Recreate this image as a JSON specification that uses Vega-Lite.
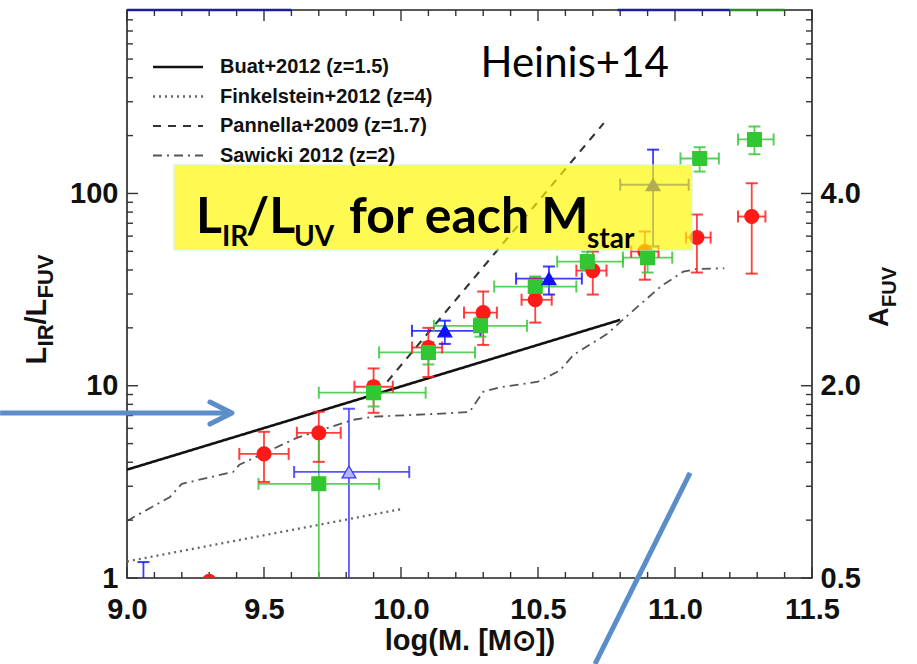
{
  "$schema": "https://vega.github.io/schema/vega-lite/v6.json",
  "width": 685,
  "height": 568,
  "autosize": {"type": "none"},
  "padding": {"left": 127, "top": 10, "right": 105, "bottom": 86},
  "background": "white",
  "config": {
    "view": {"stroke": "#222222", "strokeWidth": 1.6},
    "axis": {
      "grid": false, "domain": false, "labelFlush": false, "labelOverlap": false,
      "labelFont": "Liberation Sans", "labelFontWeight": "bold", "labelFontSize": 29, "labelColor": "#111111",
      "titleFont": "Liberation Sans", "titleFontWeight": "bold", "titleFontSize": 29, "titleColor": "#111111"
    }
  },
  "datasets": {
    "xticks": [
      {"v": 9.0, "kind": "major"}, {"v": 9.1, "kind": "minor"}, {"v": 9.2, "kind": "minor"}, {"v": 9.3, "kind": "minor"}, {"v": 9.4, "kind": "minor"},
      {"v": 9.5, "kind": "major"}, {"v": 9.6, "kind": "minor"}, {"v": 9.7, "kind": "minor"}, {"v": 9.8, "kind": "minor"}, {"v": 9.9, "kind": "minor"},
      {"v": 10.0, "kind": "major"}, {"v": 10.1, "kind": "minor"}, {"v": 10.2, "kind": "minor"}, {"v": 10.3, "kind": "minor"}, {"v": 10.4, "kind": "minor"},
      {"v": 10.5, "kind": "major"}, {"v": 10.6, "kind": "minor"}, {"v": 10.7, "kind": "minor"}, {"v": 10.8, "kind": "minor"}, {"v": 10.9, "kind": "minor"},
      {"v": 11.0, "kind": "major"}, {"v": 11.1, "kind": "minor"}, {"v": 11.2, "kind": "minor"}, {"v": 11.3, "kind": "minor"}, {"v": 11.4, "kind": "minor"},
      {"v": 11.5, "kind": "major"}
    ],
    "yticks": [
      {"v": 1, "kind": "major"}, {"v": 2, "kind": "minor"}, {"v": 3, "kind": "minor"}, {"v": 4, "kind": "minor"}, {"v": 5, "kind": "minor"},
      {"v": 6, "kind": "minor"}, {"v": 7, "kind": "minor"}, {"v": 8, "kind": "minor"}, {"v": 9, "kind": "minor"},
      {"v": 10, "kind": "major"}, {"v": 20, "kind": "minor"}, {"v": 30, "kind": "minor"}, {"v": 40, "kind": "minor"}, {"v": 50, "kind": "minor"},
      {"v": 60, "kind": "minor"}, {"v": 70, "kind": "minor"}, {"v": 80, "kind": "minor"}, {"v": 90, "kind": "minor"},
      {"v": 100, "kind": "major"}, {"v": 200, "kind": "minor"}, {"v": 300, "kind": "minor"}, {"v": 400, "kind": "minor"}, {"v": 500, "kind": "minor"},
      {"v": 600, "kind": "minor"}, {"v": 700, "kind": "minor"}, {"v": 800, "kind": "minor"}
    ],
    "curves": [
      {"model": "Buat+2012 (z=1.5)", "x": 9.0, "y": 3.66},
      {"model": "Buat+2012 (z=1.5)", "x": 10.8, "y": 22.0},
      {"model": "Finkelstein+2012 (z=4)", "x": 9.0, "y": 1.22},
      {"model": "Finkelstein+2012 (z=4)", "x": 10.0, "y": 2.28},
      {"model": "Pannella+2009 (z=1.7)", "x": 9.95, "y": 10.5},
      {"model": "Pannella+2009 (z=1.7)", "x": 10.74, "y": 232},
      {"model": "Sawicki 2012 (z=2)", "x": 9.0, "y": 1.98},
      {"model": "Sawicki 2012 (z=2)", "x": 9.157, "y": 2.64},
      {"model": "Sawicki 2012 (z=2)", "x": 9.2, "y": 3.09},
      {"model": "Sawicki 2012 (z=2)", "x": 9.387, "y": 3.56},
      {"model": "Sawicki 2012 (z=2)", "x": 9.41, "y": 3.88},
      {"model": "Sawicki 2012 (z=2)", "x": 9.62, "y": 5.36},
      {"model": "Sawicki 2012 (z=2)", "x": 9.825, "y": 6.65},
      {"model": "Sawicki 2012 (z=2)", "x": 9.9, "y": 6.9},
      {"model": "Sawicki 2012 (z=2)", "x": 10.18, "y": 7.2},
      {"model": "Sawicki 2012 (z=2)", "x": 10.25, "y": 7.3},
      {"model": "Sawicki 2012 (z=2)", "x": 10.3, "y": 9.3},
      {"model": "Sawicki 2012 (z=2)", "x": 10.36, "y": 9.8},
      {"model": "Sawicki 2012 (z=2)", "x": 10.5, "y": 10.5},
      {"model": "Sawicki 2012 (z=2)", "x": 10.58, "y": 12.0},
      {"model": "Sawicki 2012 (z=2)", "x": 10.63, "y": 14.5},
      {"model": "Sawicki 2012 (z=2)", "x": 10.75, "y": 18.5},
      {"model": "Sawicki 2012 (z=2)", "x": 10.83, "y": 23.4},
      {"model": "Sawicki 2012 (z=2)", "x": 10.88, "y": 27},
      {"model": "Sawicki 2012 (z=2)", "x": 10.95, "y": 33},
      {"model": "Sawicki 2012 (z=2)", "x": 11.03, "y": 39.2},
      {"model": "Sawicki 2012 (z=2)", "x": 11.08, "y": 40.5},
      {"model": "Sawicki 2012 (z=2)", "x": 11.18, "y": 40.8}
    ],
    "pts": [
      {"series": "red", "x": 9.3, "y": 0.96, "xlo": 9.3, "xhi": 9.3, "ylo": 0.96, "yhi": 0.96},
      {"series": "red", "x": 9.5, "y": 4.42, "xlo": 9.41, "xhi": 9.59, "ylo": 3.16, "yhi": 5.76},
      {"series": "red", "x": 9.7, "y": 5.69, "xlo": 9.62, "xhi": 9.78, "ylo": 4.02, "yhi": 7.32},
      {"series": "red", "x": 9.9, "y": 9.88, "xlo": 9.83, "xhi": 9.97, "ylo": 7.23, "yhi": 12.3},
      {"series": "red", "x": 10.1, "y": 15.8, "xlo": 10.04, "xhi": 10.15, "ylo": 11.1, "yhi": 20.0},
      {"series": "red", "x": 10.3, "y": 24.0, "xlo": 10.23, "xhi": 10.35, "ylo": 16.3, "yhi": 30.9},
      {"series": "red", "x": 10.49, "y": 28.0, "xlo": 10.44, "xhi": 10.55, "ylo": 21.3, "yhi": 36.5},
      {"series": "red", "x": 10.7, "y": 39.7, "xlo": 10.64, "xhi": 10.75, "ylo": 29.8, "yhi": 49.9},
      {"series": "red", "x": 10.89, "y": 49.9, "xlo": 10.84, "xhi": 10.94, "ylo": 35.6, "yhi": 63.4},
      {"series": "red", "x": 11.08, "y": 59.0, "xlo": 11.04, "xhi": 11.13, "ylo": 38.8, "yhi": 77.7},
      {"series": "red", "x": 11.28, "y": 75.9, "xlo": 11.23, "xhi": 11.33, "ylo": 38.3, "yhi": 113},
      {"series": "green", "x": 9.7, "y": 3.09, "xlo": 9.48, "xhi": 9.92, "ylo": 0.5, "yhi": 5.9},
      {"series": "green", "x": 9.9, "y": 9.2, "xlo": 9.7, "xhi": 10.09, "ylo": 7.8, "yhi": 10.5},
      {"series": "green", "x": 10.1, "y": 14.9, "xlo": 9.92, "xhi": 10.27, "ylo": 12.9, "yhi": 16.9},
      {"series": "green", "x": 10.29, "y": 20.5, "xlo": 10.12, "xhi": 10.46, "ylo": 18.0, "yhi": 22.6},
      {"series": "green", "x": 10.49, "y": 32.8, "xlo": 10.34, "xhi": 10.64, "ylo": 29.8, "yhi": 37.0},
      {"series": "green", "x": 10.68, "y": 44.2, "xlo": 10.57, "xhi": 10.81, "ylo": 40.0, "yhi": 49.8},
      {"series": "green", "x": 10.9, "y": 46.4, "xlo": 10.81, "xhi": 10.99, "ylo": 38.8, "yhi": 53.0},
      {"series": "green", "x": 11.09, "y": 152, "xlo": 11.02, "xhi": 11.16, "ylo": 130, "yhi": 174},
      {"series": "green", "x": 11.29, "y": 191, "xlo": 11.23, "xhi": 11.36, "ylo": 160, "yhi": 223},
      {"series": "blue", "x": 9.06, "y": 0.8, "xlo": 9.06, "xhi": 9.06, "ylo": 0.5, "yhi": 1.21},
      {"series": "blue", "x": 10.16, "y": 19.3, "xlo": 10.04, "xhi": 10.29, "ylo": 16.5, "yhi": 21.8},
      {"series": "blue", "x": 10.54, "y": 36.1, "xlo": 10.42, "xhi": 10.66, "ylo": 29.8, "yhi": 41.7},
      {"series": "blue", "x": 10.92, "y": 111, "xlo": 10.8, "xhi": 11.05, "ylo": 53, "yhi": 169},
      {"series": "blue_open", "x": 9.81, "y": 3.56, "xlo": 9.61, "xhi": 10.03, "ylo": 0.5, "yhi": 7.59}
    ],
    "edges": [
      {"series": "blue", "xlo": 9.0, "xhi": 9.6, "y": 900},
      {"series": "blue", "xlo": 10.79, "xhi": 11.2, "y": 900},
      {"series": "green", "xlo": 11.2, "xhi": 11.4, "y": 900}
    ],
    "box": [{"x": 9.1715, "x2": 11.062, "y": 50.8, "y2": 140.6}],
    "arrows": [
      {"x": 8.537, "x2": 9.37, "y": 7.21, "y2": 7.21},
      {"x": 11.055, "x2": 10.708, "y": 3.52, "y2": 0.357}
    ],
    "heads": [{"x": 9.383, "y": 7.21}],
    "ann": [
      {"id": "title", "x": 9.2518, "y": 62.3},
      {"id": "heinis", "x": 10.29, "y": 403.5},
      {"id": "ylab", "x": 8.7044, "y": 12.9},
      {"id": "alab", "x": 11.777, "y": 20.2}
    ]
  },
  "layer": [
    {
      "data": {"name": "curves"},
      "mark": {"type": "line", "clip": true},
      "encoding": {
        "x": {"field": "x", "type": "quantitative", "scale": {"domain": [9, 11.5], "nice": false, "zero": false},
              "axis": {"orient": "bottom", "values": [9, 9.5, 10, 10.5, 11, 11.5], "ticks": false, "format": ".1f", "labelPadding": 17, "labelBaseline": "top", "title": "log(M. [M⊙])", "titlePadding": 2}},
        "y": {"field": "y", "type": "quantitative", "scale": {"type": "log", "domain": [1, 900], "nice": false},
              "axis": {"orient": "left", "values": [1, 10, 100], "ticks": false, "format": "d", "labelPadding": 9, "title": null}},
        "color": {"field": "model", "type": "nominal",
                  "scale": {"domain": ["Buat+2012 (z=1.5)", "Finkelstein+2012 (z=4)", "Pannella+2009 (z=1.7)", "Sawicki 2012 (z=2)"], "range": ["#111111", "#666666", "#333333", "#555555"]},
                  "legend": {"orient": "none", "legendX": 41, "legendY": 47, "title": null, "symbolType": "M-5,0H5", "symbolSize": 100, "symbolStrokeWidth": 1.8, "labelFont": "Liberation Sans", "labelFontWeight": "bold", "labelFontSize": 20, "labelLimit": 0, "labelColor": "#111111", "labelOffset": 32, "rowPadding": 9.5, "padding": 0}},
        "strokeDash": {"field": "model", "type": "nominal",
                  "scale": {"domain": ["Buat+2012 (z=1.5)", "Finkelstein+2012 (z=4)", "Pannella+2009 (z=1.7)", "Sawicki 2012 (z=2)"], "range": [[1, 0], [2, 4], [8, 7], [9, 5, 2, 5]]},
                  "legend": {"orient": "none", "legendX": 41, "legendY": 47, "title": null, "symbolType": "M-5,0H5", "symbolSize": 100, "symbolStrokeWidth": 1.8, "labelFont": "Liberation Sans", "labelFontWeight": "bold", "labelFontSize": 20, "labelLimit": 0, "labelColor": "#111111", "labelOffset": 32, "rowPadding": 9.5, "padding": 0}},
        "strokeWidth": {"field": "model", "type": "nominal",
                  "scale": {"domain": ["Buat+2012 (z=1.5)", "Finkelstein+2012 (z=4)", "Pannella+2009 (z=1.7)", "Sawicki 2012 (z=2)"], "range": [2.6, 1.8, 2.0, 1.8]}, "legend": null}
      }
    },
    {
      "data": {"name": "xticks"}, "transform": [{"filter": "datum.kind == 'major'"}],
      "mark": {"type": "rule", "stroke": "#333333", "strokeWidth": 1.4},
      "encoding": {
        "x": {"field": "v", "type": "quantitative", "axis": null},
        "y": {"datum": 1, "type": "quantitative", "axis": null},
        "y2": {"datum": 1.141}
      }
    },
    {
      "data": {"name": "xticks"}, "transform": [{"filter": "datum.kind == 'minor'"}],
      "mark": {"type": "rule", "stroke": "#333333", "strokeWidth": 1.4},
      "encoding": {
        "x": {"field": "v", "type": "quantitative", "axis": null},
        "y": {"datum": 1, "type": "quantitative", "axis": null},
        "y2": {"datum": 1.0745}
      }
    },
    {
      "data": {"name": "xticks"}, "transform": [{"filter": "datum.kind == 'major'"}],
      "mark": {"type": "rule", "stroke": "#333333", "strokeWidth": 1.4},
      "encoding": {
        "x": {"field": "v", "type": "quantitative", "axis": null},
        "y": {"datum": 900, "type": "quantitative", "axis": null},
        "y2": {"datum": 788.8}
      }
    },
    {
      "data": {"name": "xticks"}, "transform": [{"filter": "datum.kind == 'minor'"}],
      "mark": {"type": "rule", "stroke": "#333333", "strokeWidth": 1.4},
      "encoding": {
        "x": {"field": "v", "type": "quantitative", "axis": null},
        "y": {"datum": 900, "type": "quantitative", "axis": null},
        "y2": {"datum": 837.6}
      }
    },
    {
      "data": {"name": "yticks"}, "transform": [{"filter": "datum.kind == 'major'"}],
      "mark": {"type": "rule", "stroke": "#333333", "strokeWidth": 1.4},
      "encoding": {
        "y": {"field": "v", "type": "quantitative", "axis": null},
        "x": {"datum": 9, "type": "quantitative", "axis": null},
        "x2": {"datum": 9.0401}
      }
    },
    {
      "data": {"name": "yticks"}, "transform": [{"filter": "datum.kind == 'minor'"}],
      "mark": {"type": "rule", "stroke": "#333333", "strokeWidth": 1.4},
      "encoding": {
        "y": {"field": "v", "type": "quantitative", "axis": null},
        "x": {"datum": 9, "type": "quantitative", "axis": null},
        "x2": {"datum": 9.0219}
      }
    },
    {
      "data": {"name": "yticks"}, "transform": [{"filter": "datum.kind == 'major'"}],
      "mark": {"type": "rule", "stroke": "#333333", "strokeWidth": 1.4},
      "encoding": {
        "y": {"field": "v", "type": "quantitative", "axis": {"orient": "right", "values": [1, 10, 100], "ticks": false, "labelPadding": 8, "labelExpr": "datum.value < 2 ? '0.5' : datum.value < 20 ? '2.0' : '4.0'", "title": null}},
        "x": {"datum": 11.5, "type": "quantitative", "axis": null},
        "x2": {"datum": 11.4599}
      }
    },
    {
      "data": {"name": "yticks"}, "transform": [{"filter": "datum.kind == 'minor'"}],
      "mark": {"type": "rule", "stroke": "#333333", "strokeWidth": 1.4},
      "encoding": {
        "y": {"field": "v", "type": "quantitative", "axis": null},
        "x": {"datum": 11.5, "type": "quantitative", "axis": null},
        "x2": {"datum": 11.4781}
      }
    },
    {
      "data": {"name": "pts"},
      "mark": {"type": "rule", "strokeWidth": 1.8, "clip": true, "opacity": 0.85},
      "encoding": {
        "x": {"field": "x", "type": "quantitative", "axis": null},
        "y": {"field": "ylo", "type": "quantitative", "axis": null},
        "y2": {"field": "yhi"},
        "stroke": {"field": "series", "type": "nominal", "scale": {"domain": ["red", "green", "blue", "blue_open"], "range": ["#ff2020", "#3cc83c", "#1a1aff", "#3a3aff"]}, "legend": null}
      }
    },
    {
      "data": {"name": "pts"},
      "mark": {"type": "rule", "strokeWidth": 1.8, "clip": true, "opacity": 0.85},
      "encoding": {
        "x": {"field": "xlo", "type": "quantitative", "axis": null},
        "x2": {"field": "xhi"},
        "y": {"field": "y", "type": "quantitative", "axis": null},
        "stroke": {"field": "series", "type": "nominal", "scale": {"domain": ["red", "green", "blue", "blue_open"], "range": ["#ff2020", "#3cc83c", "#1a1aff", "#3a3aff"]}, "legend": null}
      }
    },
    {
      "data": {"name": "pts"},
      "mark": {"type": "tick", "orient": "vertical", "size": 12, "thickness": 2, "clip": true, "opacity": 0.85},
      "encoding": {
        "x": {"field": "xlo", "type": "quantitative", "axis": null},
        "y": {"field": "y", "type": "quantitative", "axis": null},
        "fill": {"field": "series", "type": "nominal", "scale": {"domain": ["red", "green", "blue", "blue_open"], "range": ["#ff2020", "#3cc83c", "#1a1aff", "#3a3aff"]}, "legend": null}
      }
    },
    {
      "data": {"name": "pts"},
      "mark": {"type": "tick", "orient": "vertical", "size": 12, "thickness": 2, "clip": true, "opacity": 0.85},
      "encoding": {
        "x": {"field": "xhi", "type": "quantitative", "axis": null},
        "y": {"field": "y", "type": "quantitative", "axis": null},
        "fill": {"field": "series", "type": "nominal", "scale": {"domain": ["red", "green", "blue", "blue_open"], "range": ["#ff2020", "#3cc83c", "#1a1aff", "#3a3aff"]}, "legend": null}
      }
    },
    {
      "data": {"name": "pts"},
      "mark": {"type": "tick", "orient": "horizontal", "size": 12, "thickness": 2, "clip": true, "opacity": 0.85},
      "encoding": {
        "x": {"field": "x", "type": "quantitative", "axis": null},
        "y": {"field": "ylo", "type": "quantitative", "axis": null},
        "fill": {"field": "series", "type": "nominal", "scale": {"domain": ["red", "green", "blue", "blue_open"], "range": ["#ff2020", "#3cc83c", "#1a1aff", "#3a3aff"]}, "legend": null}
      }
    },
    {
      "data": {"name": "pts"},
      "mark": {"type": "tick", "orient": "horizontal", "size": 12, "thickness": 2, "clip": true, "opacity": 0.85},
      "encoding": {
        "x": {"field": "x", "type": "quantitative", "axis": null},
        "y": {"field": "yhi", "type": "quantitative", "axis": null},
        "fill": {"field": "series", "type": "nominal", "scale": {"domain": ["red", "green", "blue", "blue_open"], "range": ["#ff2020", "#3cc83c", "#1a1aff", "#3a3aff"]}, "legend": null}
      }
    },
    {
      "data": {"name": "pts"},
      "mark": {"type": "point", "filled": true, "size": 190, "strokeWidth": 1.3, "clip": true, "opacity": 1},
      "encoding": {
        "x": {"field": "x", "type": "quantitative", "axis": null},
        "y": {"field": "y", "type": "quantitative", "axis": null},
        "shape": {"field": "series", "type": "nominal", "scale": {"domain": ["red", "green", "blue", "blue_open"], "range": ["circle", "square", "triangle-up", "triangle-up"]}, "legend": null},
        "fill": {"field": "series", "type": "nominal", "scale": {"domain": ["red", "green", "blue", "blue_open"], "range": ["#ff1a1a", "#33c633", "#1010ff", "#b4b4ff"]}, "legend": null},
        "stroke": {"field": "series", "type": "nominal", "scale": {"domain": ["red", "green", "blue", "blue_open"], "range": ["#ff1a1a", "#33c633", "#1010ff", "#3a3aff"]}, "legend": null}
      }
    },
    {
      "data": {"name": "edges"},
      "mark": {"type": "rule", "strokeWidth": 2.5, "clip": false},
      "encoding": {
        "x": {"field": "xlo", "type": "quantitative", "axis": null},
        "x2": {"field": "xhi"},
        "y": {"field": "y", "type": "quantitative", "axis": null},
        "stroke": {"field": "series", "type": "nominal", "scale": {"domain": ["blue", "green"], "range": ["#1c1c9c", "#2c8a2c"]}, "legend": null}
      }
    },
    {
      "data": {"name": "box"},
      "mark": {"type": "rect", "fill": "#fff800", "opacity": 0.68, "stroke": "#c8f5c8", "strokeWidth": 1.5},
      "encoding": {
        "x": {"field": "x", "type": "quantitative", "axis": null},
        "x2": {"field": "x2"},
        "y": {"field": "y", "type": "quantitative", "axis": null},
        "y2": {"field": "y2"}
      }
    },
    {
      "data": {"name": "ann"}, "transform": [{"filter": "datum.id == 'title'"}],
      "mark": {"type": "text", "text": "L", "font": "Lato", "fontWeight": "bold", "fontSize": 50, "align": "left", "baseline": "alphabetic", "color": "#000000"},
      "encoding": {"x": {"field": "x", "type": "quantitative", "axis": null}, "y": {"field": "y", "type": "quantitative", "axis": null}}
    },
    {
      "data": {"name": "ann"}, "transform": [{"filter": "datum.id == 'title'"}],
      "mark": {"type": "text", "text": "IR", "font": "Lato", "fontWeight": "bold", "fontSize": 28, "align": "left", "baseline": "alphabetic", "dx": 26, "dy": 13, "color": "#000000"},
      "encoding": {"x": {"field": "x", "type": "quantitative", "axis": null}, "y": {"field": "y", "type": "quantitative", "axis": null}}
    },
    {
      "data": {"name": "ann"}, "transform": [{"filter": "datum.id == 'title'"}],
      "mark": {"type": "text", "text": "/L", "font": "Lato", "fontWeight": "bold", "fontSize": 50, "align": "left", "baseline": "alphabetic", "dx": 50, "color": "#000000"},
      "encoding": {"x": {"field": "x", "type": "quantitative", "axis": null}, "y": {"field": "y", "type": "quantitative", "axis": null}}
    },
    {
      "data": {"name": "ann"}, "transform": [{"filter": "datum.id == 'title'"}],
      "mark": {"type": "text", "text": "UV", "font": "Lato", "fontWeight": "bold", "fontSize": 28, "align": "left", "baseline": "alphabetic", "dx": 98, "dy": 13, "color": "#000000"},
      "encoding": {"x": {"field": "x", "type": "quantitative", "axis": null}, "y": {"field": "y", "type": "quantitative", "axis": null}}
    },
    {
      "data": {"name": "ann"}, "transform": [{"filter": "datum.id == 'title'"}],
      "mark": {"type": "text", "text": "for each M", "font": "Lato", "fontWeight": "bold", "fontSize": 50, "align": "left", "baseline": "alphabetic", "dx": 153, "color": "#000000"},
      "encoding": {"x": {"field": "x", "type": "quantitative", "axis": null}, "y": {"field": "y", "type": "quantitative", "axis": null}}
    },
    {
      "data": {"name": "ann"}, "transform": [{"filter": "datum.id == 'title'"}],
      "mark": {"type": "text", "text": "star", "font": "Lato", "fontWeight": "bold", "fontSize": 28, "align": "left", "baseline": "alphabetic", "dx": 391, "dy": 15, "color": "#000000"},
      "encoding": {"x": {"field": "x", "type": "quantitative", "axis": null}, "y": {"field": "y", "type": "quantitative", "axis": null}}
    },
    {
      "data": {"name": "ann"}, "transform": [{"filter": "datum.id == 'heinis'"}],
      "mark": {"type": "text", "text": "Heinis+14", "font": "Lato", "fontSize": 42, "align": "left", "baseline": "alphabetic", "color": "#000000"},
      "encoding": {"x": {"field": "x", "type": "quantitative", "axis": null}, "y": {"field": "y", "type": "quantitative", "axis": null}}
    },
    {
      "data": {"name": "ann"}, "transform": [{"filter": "datum.id == 'ylab'"}],
      "mark": {"type": "text", "text": "L", "font": "Liberation Sans", "fontWeight": "bold", "fontSize": 29, "angle": 270, "align": "left", "baseline": "alphabetic", "color": "#111111"},
      "encoding": {"x": {"field": "x", "type": "quantitative", "axis": null}, "y": {"field": "y", "type": "quantitative", "axis": null}}
    },
    {
      "data": {"name": "ann"}, "transform": [{"filter": "datum.id == 'ylab'"}],
      "mark": {"type": "text", "text": "IR", "font": "Liberation Sans", "fontWeight": "bold", "fontSize": 22, "angle": 270, "align": "left", "baseline": "alphabetic", "dx": 18, "dy": 7, "color": "#111111"},
      "encoding": {"x": {"field": "x", "type": "quantitative", "axis": null}, "y": {"field": "y", "type": "quantitative", "axis": null}}
    },
    {
      "data": {"name": "ann"}, "transform": [{"filter": "datum.id == 'ylab'"}],
      "mark": {"type": "text", "text": "/L", "font": "Liberation Sans", "fontWeight": "bold", "fontSize": 29, "angle": 270, "align": "left", "baseline": "alphabetic", "dx": 40, "color": "#111111"},
      "encoding": {"x": {"field": "x", "type": "quantitative", "axis": null}, "y": {"field": "y", "type": "quantitative", "axis": null}}
    },
    {
      "data": {"name": "ann"}, "transform": [{"filter": "datum.id == 'ylab'"}],
      "mark": {"type": "text", "text": "FUV", "font": "Liberation Sans", "fontWeight": "bold", "fontSize": 22, "angle": 270, "align": "left", "baseline": "alphabetic", "dx": 66, "dy": 7, "color": "#111111"},
      "encoding": {"x": {"field": "x", "type": "quantitative", "axis": null}, "y": {"field": "y", "type": "quantitative", "axis": null}}
    },
    {
      "data": {"name": "ann"}, "transform": [{"filter": "datum.id == 'alab'"}],
      "mark": {"type": "text", "text": "A", "font": "Liberation Sans", "fontWeight": "bold", "fontSize": 27, "angle": 270, "align": "left", "baseline": "alphabetic", "color": "#111111"},
      "encoding": {"x": {"field": "x", "type": "quantitative", "axis": null}, "y": {"field": "y", "type": "quantitative", "axis": null}}
    },
    {
      "data": {"name": "ann"}, "transform": [{"filter": "datum.id == 'alab'"}],
      "mark": {"type": "text", "text": "FUV", "font": "Liberation Sans", "fontWeight": "bold", "fontSize": 20, "angle": 270, "align": "left", "baseline": "alphabetic", "dx": 20, "dy": 8, "color": "#111111"},
      "encoding": {"x": {"field": "x", "type": "quantitative", "axis": null}, "y": {"field": "y", "type": "quantitative", "axis": null}}
    },
    {
      "data": {"name": "arrows"},
      "mark": {"type": "rule", "stroke": "#5b8ec8", "strokeWidth": 5, "clip": false},
      "encoding": {
        "x": {"field": "x", "type": "quantitative", "axis": null},
        "x2": {"field": "x2"},
        "y": {"field": "y", "type": "quantitative", "axis": null},
        "y2": {"field": "y2"}
      }
    },
    {
      "data": {"name": "heads"},
      "mark": {"type": "point", "shape": "M-2,-1L0,0L-2,1", "size": 484, "filled": false, "stroke": "#5b8ec8", "strokeWidth": 5, "strokeJoin": "round", "strokeCap": "round", "opacity": 1, "clip": false},
      "encoding": {
        "x": {"field": "x", "type": "quantitative", "axis": null},
        "y": {"field": "y", "type": "quantitative", "axis": null}
      }
    }
  ],
  "resolve": {
    "axis": {"x": "independent", "y": "independent"},
    "scale": {"fill": "independent", "stroke": "independent", "shape": "independent", "color": "independent", "strokeDash": "independent", "strokeWidth": "independent"}
  }
}
